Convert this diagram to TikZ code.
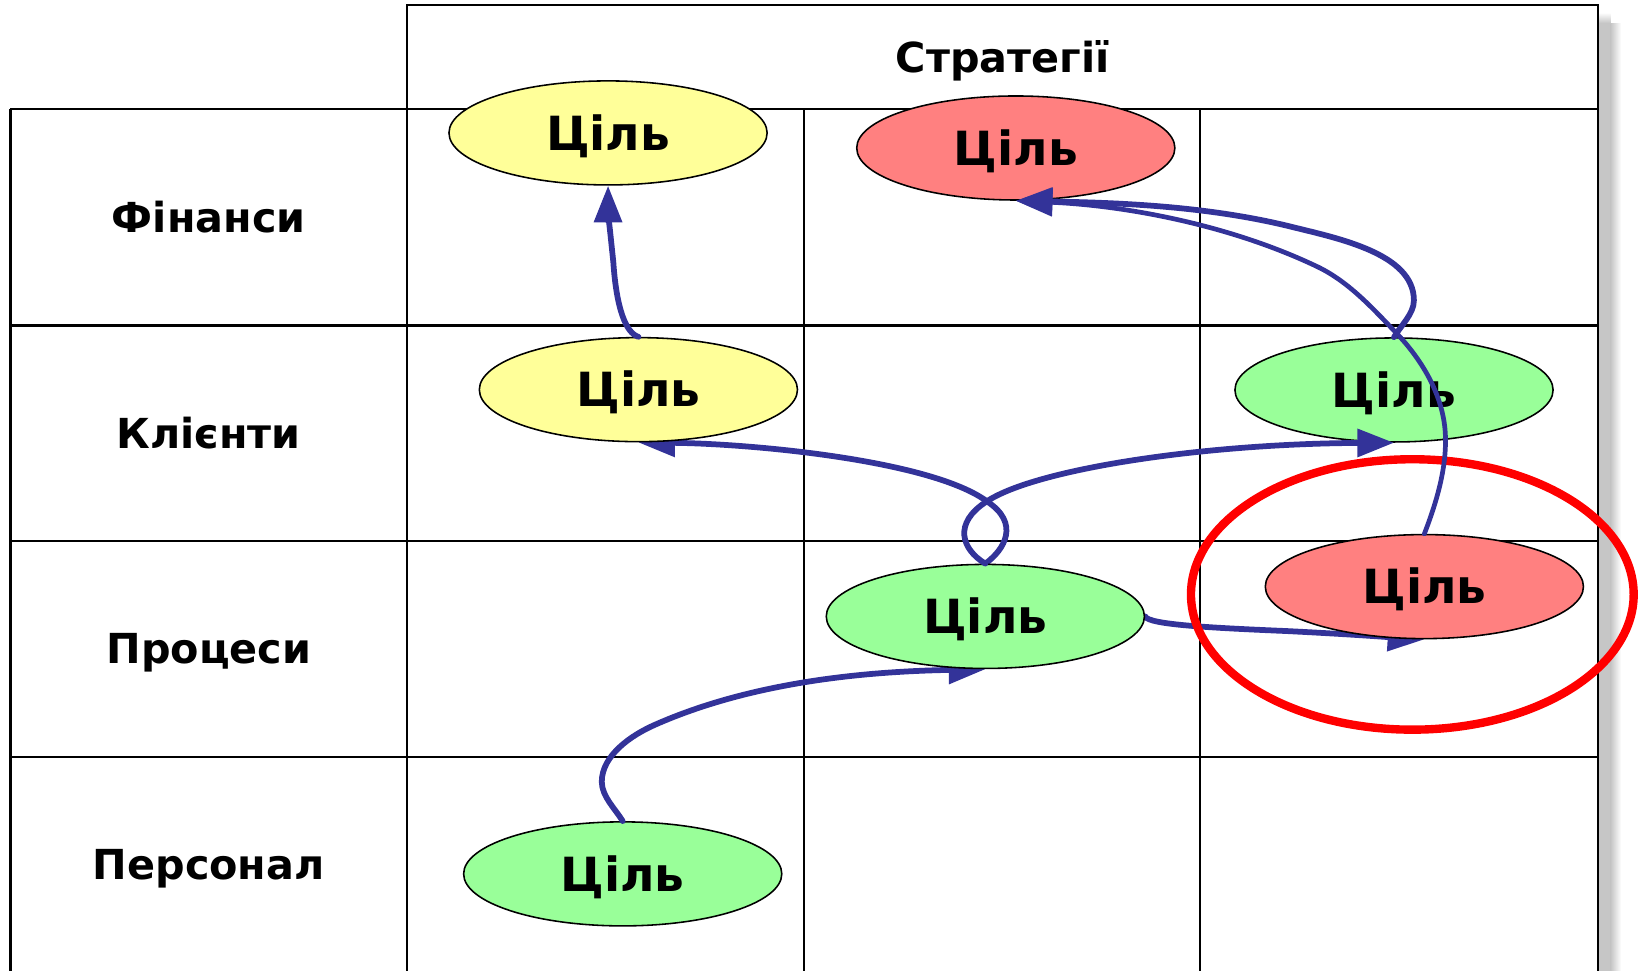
\documentclass[tikz,border=0pt]{standalone}
\usepackage{fontspec}
\setmainfont{DejaVu Sans}
\usetikzlibrary{shapes.geometric,arrows.meta}
\definecolor{goalyellow}{HTML}{FFFF99}
\definecolor{goalred}{HTML}{FF8080}
\definecolor{goalgreen}{HTML}{99FF99}
\definecolor{linkblue}{HTML}{333399}
\pgfdeclarelayer{tablelayer}
\pgfdeclarelayer{lowgoals}
\pgfdeclarelayer{lowlinks}
\pgfdeclarelayer{toplinks}
\pgfsetlayers{tablelayer,lowgoals,lowlinks,main,toplinks}
\begin{document}
\begin{tikzpicture}[x=1pt,y=-1pt,
  grid/.style={line width=2pt, draw=black},
  rowlabel/.style={font=\bfseries\fontsize{39.5}{44}\selectfont, text height=28.8pt, text depth=0pt, inner sep=0pt},
  goal/.style={ellipse, draw=black, line width=1.5pt, minimum width=304pt, minimum height=99.4pt, inner sep=0pt,
    font=\bfseries\fontsize{45}{50}\selectfont, text height=32.8pt, text depth=0pt},
  link/.style={draw=linkblue, line width=5.5pt, line cap=round, -{Triangle[length=35pt,width=26pt]}},
  focusring/.style={ellipse, draw=red, line width=8pt, minimum width=423pt, minimum height=258.4pt, inner sep=0pt},
]
\useasboundingbox (0,0) rectangle (1568,927);

\begin{pgfonlayer}{tablelayer}
% soft shadow along the right edge of the table
\fill[gray!45] (1528,22) rectangle (1539,930);
\shade[left color=gray!45, right color=white] (1539,22) rectangle (1549,930);
\shade[top color=white, bottom color=gray!45] (1528,12) rectangle (1539,22);

% table
\draw[grid] (389,5) rectangle (1527,104);
\draw[grid] (10,104) -- (1527,104);
\draw[grid] (10,311) -- (1527,311);
\draw[grid] (10,517) -- (1527,517);
\draw[grid] (10,723) -- (1527,723);
\draw[grid] (10,104) -- (10,930);
\draw[grid] (389,104) -- (389,930);
\draw[grid] (768,104) -- (768,930);
\draw[grid] (1147,104) -- (1147,930);
\draw[grid] (1527,104) -- (1527,930);

% headings
\node[rowlabel] (strategies) at (958,54.5) {Стратегії};
\node[rowlabel] (finance) at (199.5,207.5) {Фінанси};
\node[rowlabel] (clients) at (199.5,414) {Клієнти};
\node[rowlabel] (processes) at (199.5,620) {Процеси};
\node[rowlabel] (staff) at (199.5,826) {Персонал};
\end{pgfonlayer}

% goals lying under the links
\begin{pgfonlayer}{lowgoals}
\node[goal, fill=goalyellow] (y1) at (581,127) {Ціль};
\node[goal, fill=goalred] (r1) at (970.6,141.4) {Ціль};
\node[goal, fill=goalgreen] (g1) at (1332,372.6) {Ціль};
\node[goal, fill=goalgreen] (g3) at (595,835) {Ціль};
\end{pgfonlayer}

% goals lying over some link heads
\node[goal, fill=goalyellow] (y2) at (610,372.3) {Ціль};
\node[goal, fill=goalgreen] (g2) at (941.5,589) {Ціль};
\node[goal, fill=goalred] (r2) at (1361,560.5) {Ціль};

% links whose heads tuck under their target
\begin{pgfonlayer}{lowlinks}
\draw[link] (g2.north) .. controls (960,525) and (975,500) .. (943,479)
  .. controls (890,440) and (720,424) .. (y2.south);
\draw[link] (g3.north) .. controls (588,773) and (575,761) .. (575,747)
  .. controls (575,722) and (602.7,702.7) .. (625.4,692.7)
  .. controls (722.4,649.7) and (834.5,641.5) .. (g2.south);
\draw[link] (g2.east) .. controls (1097,597) and (1160,600) .. (1230,603)
  .. controls (1290,606) and (1330,609) .. (r2.south);
\end{pgfonlayer}

% emphasis ring and links drawn on top
\begin{pgfonlayer}{toplinks}
\node[focusring] (focus) at (1349.5,568) {};
\draw[link] (y2.north) .. controls (598,318) and (589,295) .. (586,250)
  .. controls (583,222) and (581,200) .. (y1.south);
\draw[link] (g2.north) .. controls (919,525) and (910,500) .. (943,479)
  .. controls (990,448) and (1150,424) .. (g1.south);
\draw[link, line width=4.5pt] (r2.north) .. controls (1372.5,480) and (1382.7,447) .. (1381,414)
  .. controls (1379,378) and (1359,344) .. (1334,318)
  .. controls (1311,294) and (1288.4,269) .. (1258.7,254.8)
  .. controls (1170.5,212.7) and (1068.6,196) .. (r1.south);
\draw[link] (g1.north) .. controls (1338.5,311) and (1351,300) .. (1351,287)
  .. controls (1351,242) and (1277.6,227.6) .. (1233.6,216.6)
  .. controls (1148.6,195.6) and (1058.6,193.6) .. (r1.south);
\end{pgfonlayer}
\end{tikzpicture}
\end{document}
